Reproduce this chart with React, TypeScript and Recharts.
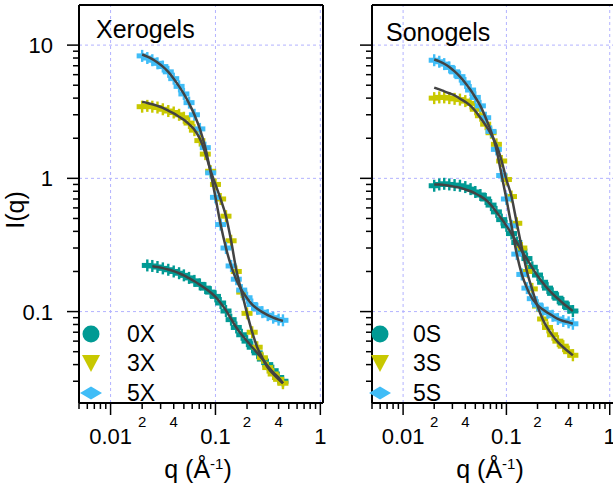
import React from 'react';
import { ComposedChart, Scatter, Line, XAxis, YAxis, ReferenceLine } from 'recharts';

// q grid (Å^-1) shared by every series
const qGrid = [0.02, 0.0224, 0.025, 0.028, 0.0315, 0.0355, 0.04, 0.045, 0.05, 0.056, 0.063, 0.071, 0.08, 0.09, 0.1, 0.112, 0.126, 0.141, 0.158, 0.178, 0.2, 0.224, 0.25, 0.28, 0.315, 0.355, 0.4, 0.44];

// Xerogels
const x0Data = [null, 0.222, 0.22, 0.216, 0.211, 0.206, 0.2, 0.194, 0.187, 0.179, 0.17, 0.16, 0.15, 0.14, 0.13, 0.116, 0.101, 0.087, 0.076, 0.067, 0.06, 0.054, 0.049, 0.044, 0.04, 0.036, 0.032, 0.03];
const x0Fit = [null, null, 0.219, 0.216, 0.212, 0.207, 0.201, 0.194, 0.187, 0.178, 0.169, 0.159, 0.149, 0.139, 0.129, 0.116, 0.102, 0.088, 0.076, 0.067, 0.06, 0.054, 0.049, 0.044, 0.039, 0.035, 0.032, 0.029];
const x3Data = [3.45, 3.5, 3.45, 3.4, 3.3, 3.2, 3.12, 3.0, 2.85, 2.6, 2.3, 1.92, 1.52, 1.13, 0.9, 0.7, 0.52, 0.34, 0.2, 0.14, 0.097, 0.07, 0.054, 0.045, 0.038, 0.034, 0.031, 0.029];
const x3Fit = [3.75, 3.68, 3.6, 3.5, 3.38, 3.22, 3.07, 2.9, 2.75, 2.55, 2.32, 1.98, 1.55, 1.14, 0.9, 0.7, 0.52, 0.34, 0.205, 0.14, 0.097, 0.07, 0.054, 0.045, 0.038, 0.034, 0.031, 0.029];
const x5Data = [8.3, 8.0, 7.7, 7.3, 6.9, 6.3, 5.6, 4.9, 4.3, 3.7, 3.0, 2.35, 1.7, 1.1, 0.72, 0.45, 0.3, 0.22, 0.175, 0.145, 0.127, 0.113, 0.105, 0.099, 0.094, 0.09, 0.087, 0.086];
const x5Fit = [8.5, 8.2, 7.85, 7.4, 6.9, 6.3, 5.6, 4.9, 4.3, 3.65, 3.0, 2.35, 1.7, 1.1, 0.72, 0.45, 0.3, 0.22, 0.173, 0.144, 0.126, 0.113, 0.105, 0.099, 0.094, 0.09, 0.087, 0.085];

// Sonogels
const s0Data = [0.88, 0.9, 0.91, 0.9, 0.89, 0.88, 0.86, 0.83, 0.79, 0.75, 0.7, 0.63, 0.56, 0.49, 0.44, 0.385, 0.33, 0.285, 0.25, 0.215, 0.188, 0.166, 0.15, 0.137, 0.126, 0.116, 0.107, 0.101];
const s0Fit = [0.9, 0.9, 0.89, 0.88, 0.865, 0.85, 0.825, 0.8, 0.77, 0.735, 0.69, 0.63, 0.56, 0.495, 0.44, 0.385, 0.33, 0.285, 0.248, 0.213, 0.186, 0.165, 0.149, 0.136, 0.125, 0.115, 0.107, 0.101];
const s3Data = [4.0, 4.05, 4.05, 4.0, 3.95, 3.9, 3.8, 3.65, 3.3, 2.95, 2.55, 2.2, 1.8, 1.35, 0.98, 0.73, 0.46, 0.3, 0.2, 0.148, 0.11, 0.088, 0.076, 0.067, 0.06, 0.055, 0.05, 0.047];
const s3Fit = [4.8, 4.65, 4.5, 4.35, 4.2, 3.97, 3.75, 3.5, 3.2, 2.85, 2.5, 2.15, 1.78, 1.35, 0.98, 0.73, 0.46, 0.3, 0.2, 0.146, 0.11, 0.088, 0.075, 0.066, 0.059, 0.054, 0.05, 0.047];
const s5Data = [7.7, 7.5, 7.2, 6.8, 6.3, 5.8, 5.2, 4.6, 4.05, 3.5, 2.85, 2.25, 1.65, 1.05, 0.7, 0.44, 0.27, 0.19, 0.15, 0.125, 0.112, 0.104, 0.098, 0.093, 0.088, 0.085, 0.083, 0.081];
const s5Fit = [7.8, 7.55, 7.25, 6.85, 6.35, 5.8, 5.2, 4.6, 4.05, 3.5, 2.85, 2.25, 1.65, 1.05, 0.7, 0.44, 0.27, 0.19, 0.15, 0.125, 0.112, 0.104, 0.098, 0.093, 0.088, 0.085, 0.083, 0.081];

const xeroNames = ['0X', '3X', '5X'];
const sonoNames = ['0S', '3S', '5S'];

// axis ticks
const mantissas = [1, 2, 3, 4, 5, 6, 7, 8, 9];
const xDecades = [0.001, 0.01, 0.1, 1];
const yDecades = [0.01, 0.1, 1, 10];
const xMajor = [0.01, 0.1, 1];
const yMajor = [0.1, 1, 10];
const xMinorLabels = [
  { v: 0.02, t: '2' },
  { v: 0.04, t: '4' },
  { v: 0.2, t: '2' },
  { v: 0.4, t: '4' },
];

const TEAL = '#009a94';
const YELLOW = '#c8c800';
const BLUE = '#40bdf7';
const FIT = '#434343';
const GRID = '#b3b3ff';
const FONT = '"Liberation Sans", Arial, Helvetica, sans-serif';

const Y_DOMAIN: [number, number] = [0.0206, 20];
const LEFT_X: [number, number] = [0.005, 1.06];
const RIGHT_X: [number, number] = [0.005, 1.1];

const near = (a: number, b: number) => Math.abs(a - b) < 1e-9;

const makeTicks = (decades: number[], lo: number, hi: number) =>
  decades
    .flatMap((d) => mantissas.map((m) => Number((m * d).toPrecision(6))))
    .filter((v) => v >= lo - 1e-12 && v <= hi);

const toPoints = (vals: (number | null)[]) =>
  qGrid.map((q, i) => ({ q, I: vals[i] })).filter((p) => p.I != null);

const XTick = (props: any) => {
  const { x, y, payload } = props;
  const v = payload.value;
  const major = xMajor.some((m) => near(m, v));
  const minor = xMinorLabels.find((m) => near(m.v, v));
  return (
    <g>
      <line x1={x} x2={x} y1={y} y2={y + (major ? 12 : 6)} stroke="#000" strokeWidth={1.5} />
      {major && (
        <text x={x} y={y + 41} textAnchor="middle" fontSize={22} fontFamily={FONT} fill="#000">
          {String(v)}
        </text>
      )}
      {minor && (
        <text x={x} y={y + 24} textAnchor="middle" fontSize={15} fontFamily={FONT} fill="#000">
          {minor.t}
        </text>
      )}
    </g>
  );
};

const YTick = (props: any) => {
  const { x, y, payload, showLabels } = props;
  const v = payload.value;
  const major = yMajor.some((m) => near(m, v));
  return (
    <g>
      <line x1={x} x2={x - (major ? 12 : 6)} y1={y} y2={y} stroke="#000" strokeWidth={1.5} />
      {major && showLabels && (
        <text x={x - 26} y={y + 8} textAnchor="end" fontSize={22} fontFamily={FONT} fill="#000">
          {String(v)}
        </text>
      )}
    </g>
  );
};

// marker with a small error bar, like the Igor "+" traces
const DataMark = (props: any) => {
  const { cx, cy, fill } = props;
  if (cx == null || cy == null) return null;
  return (
    <g>
      <rect x={cx - 5.5} y={cy - 2.5} width={11} height={5} fill={fill} />
      <rect x={cx - 1.2} y={cy - 6} width={2.4} height={12} fill={fill} />
    </g>
  );
};

type Series = { data: (number | null)[]; fit: (number | null)[]; color: string };

const Panel = ({
  series,
  left,
  width,
  yAxisWidth,
  marginRight,
  xDomain,
  showYLabels,
}: {
  series: Series[];
  left: number;
  width: number;
  yAxisWidth: number;
  marginRight: number;
  xDomain: [number, number];
  showYLabels: boolean;
}) => {
  const xTicks = makeTicks(xDecades, xDomain[0], xDomain[1]);
  const yTicks = makeTicks(yDecades, Y_DOMAIN[0], 10);
  return (
    <div style={{ position: 'absolute', left, top: 0 }}>
      <ComposedChart width={width} height={492} margin={{ top: 5, right: marginRight, bottom: 0, left: 0 }}>
        {xMajor.map((v) => (
          <ReferenceLine key={'gx' + v} x={v} stroke={GRID} strokeDasharray="3 3" zIndex={-50} />
        ))}
        {yMajor.map((v) => (
          <ReferenceLine key={'gy' + v} y={v} stroke={GRID} strokeDasharray="3 3" zIndex={-50} />
        ))}
        <XAxis
          type="number"
          dataKey="q"
          scale="log"
          domain={xDomain}
          allowDataOverflow
          ticks={xTicks}
          interval={0}
          tick={<XTick />}
          tickLine={false}
          tickSize={0}
          tickMargin={0}
          axisLine={{ stroke: '#000', strokeWidth: 2 }}
          height={89}
        />
        <YAxis
          type="number"
          dataKey="I"
          scale="log"
          domain={Y_DOMAIN}
          allowDataOverflow
          ticks={yTicks}
          interval={0}
          tick={(p: any) => <YTick {...p} showLabels={showYLabels} />}
          tickLine={false}
          tickSize={0}
          tickMargin={0}
          axisLine={{ stroke: '#000', strokeWidth: 2 }}
          width={yAxisWidth}
        />
        {series.map((s, i) => (
          <Scatter
            key={'d' + i}
            data={toPoints(s.data)}
            dataKey="I"
            fill={s.color}
            shape={<DataMark />}
            isAnimationActive={false}
          />
        ))}
        {series.map((s, i) => (
          <Line
            key={'f' + i}
            data={toPoints(s.fit)}
            dataKey="I"
            type="monotone"
            stroke={FIT}
            strokeWidth={2.5}
            dot={false}
            activeDot={false}
            isAnimationActive={false}
            zIndex={650}
          />
        ))}
        <ReferenceLine y={Y_DOMAIN[1]} stroke="#000" strokeWidth={2} />
        <ReferenceLine x={xDomain[1]} stroke="#000" strokeWidth={2} />
      </ComposedChart>
    </div>
  );
};

const LegendMark = ({ kind, cx, cy, color }: { kind: number; cx: number; cy: number; color: string }) => {
  if (kind === 0) return <circle cx={cx} cy={cy} r={8.5} fill={color} />;
  if (kind === 1)
    return <polygon points={`${cx - 9},${cy - 8} ${cx + 9},${cy - 8} ${cx},${cy + 9}`} fill={color} />;
  return <polygon points={`${cx - 11},${cy} ${cx},${cy - 6.5} ${cx + 11},${cy} ${cx},${cy + 6.5}`} fill={color} />;
};

const legendRows = [334, 363, 393];
const colors = [TEAL, YELLOW, BLUE];

const PanelLegend = ({ names, markX, textX }: { names: string[]; markX: number; textX: number }) => (
  <g>
    {names.map((n, i) => (
      <g key={n}>
        <LegendMark kind={i} cx={markX} cy={legendRows[i]} color={colors[i]} />
        <text x={textX} y={legendRows[i] + 8} fontSize={23} fontFamily={FONT} fill="#000">
          {n}
        </text>
      </g>
    ))}
  </g>
);

const QLabel = ({ cx }: { cx: number }) => (
  <text x={cx} y={478} textAnchor="middle" fontSize={25} fontFamily={FONT} fill="#000">
    q (Å
    <tspan fontSize={15} dy={-9}>
      -1
    </tspan>
    <tspan dy={9}>)</tspan>
  </text>
);

export default function App() {
  const xero: Series[] = [
    { data: x0Data, fit: x0Fit, color: TEAL },
    { data: x3Data, fit: x3Fit, color: YELLOW },
    { data: x5Data, fit: x5Fit, color: BLUE },
  ];
  const sono: Series[] = [
    { data: s0Data, fit: s0Fit, color: TEAL },
    { data: s3Data, fit: s3Fit, color: YELLOW },
    { data: s5Data, fit: s5Fit, color: BLUE },
  ];
  return (
    <div
      style={{
        position: 'absolute',
        left: 0,
        top: 0,
        width: 613,
        height: 492,
        overflow: 'hidden',
        background: '#fff',
        fontFamily: FONT,
      }}
    >
      <Panel series={xero} left={0} width={330} yAxisWidth={79} marginRight={7} xDomain={LEFT_X} showYLabels />
      <Panel series={sono} left={330} width={284} yAxisWidth={42} marginRight={0} xDomain={RIGHT_X} showYLabels={false} />
      <svg width={613} height={492} style={{ position: 'absolute', left: 0, top: 0, pointerEvents: 'none' }}>
        <text x={96} y={38} fontSize={25} fontFamily={FONT} fill="#000">
          Xerogels
        </text>
        <text x={386} y={41} fontSize={25} fontFamily={FONT} fill="#000">
          Sonogels
        </text>
        <PanelLegend names={xeroNames} markX={91} textX={127} />
        <PanelLegend names={sonoNames} markX={380} textX={413} />
        <text
          x={23.5}
          y={210}
          transform="rotate(-90 23.5 210)"
          textAnchor="middle"
          fontSize={25}
          fontFamily={FONT}
          fill="#000"
        >
          I(q)
        </text>
        <QLabel cx={198} />
        <QLabel cx={490} />
      </svg>
    </div>
  );
}
